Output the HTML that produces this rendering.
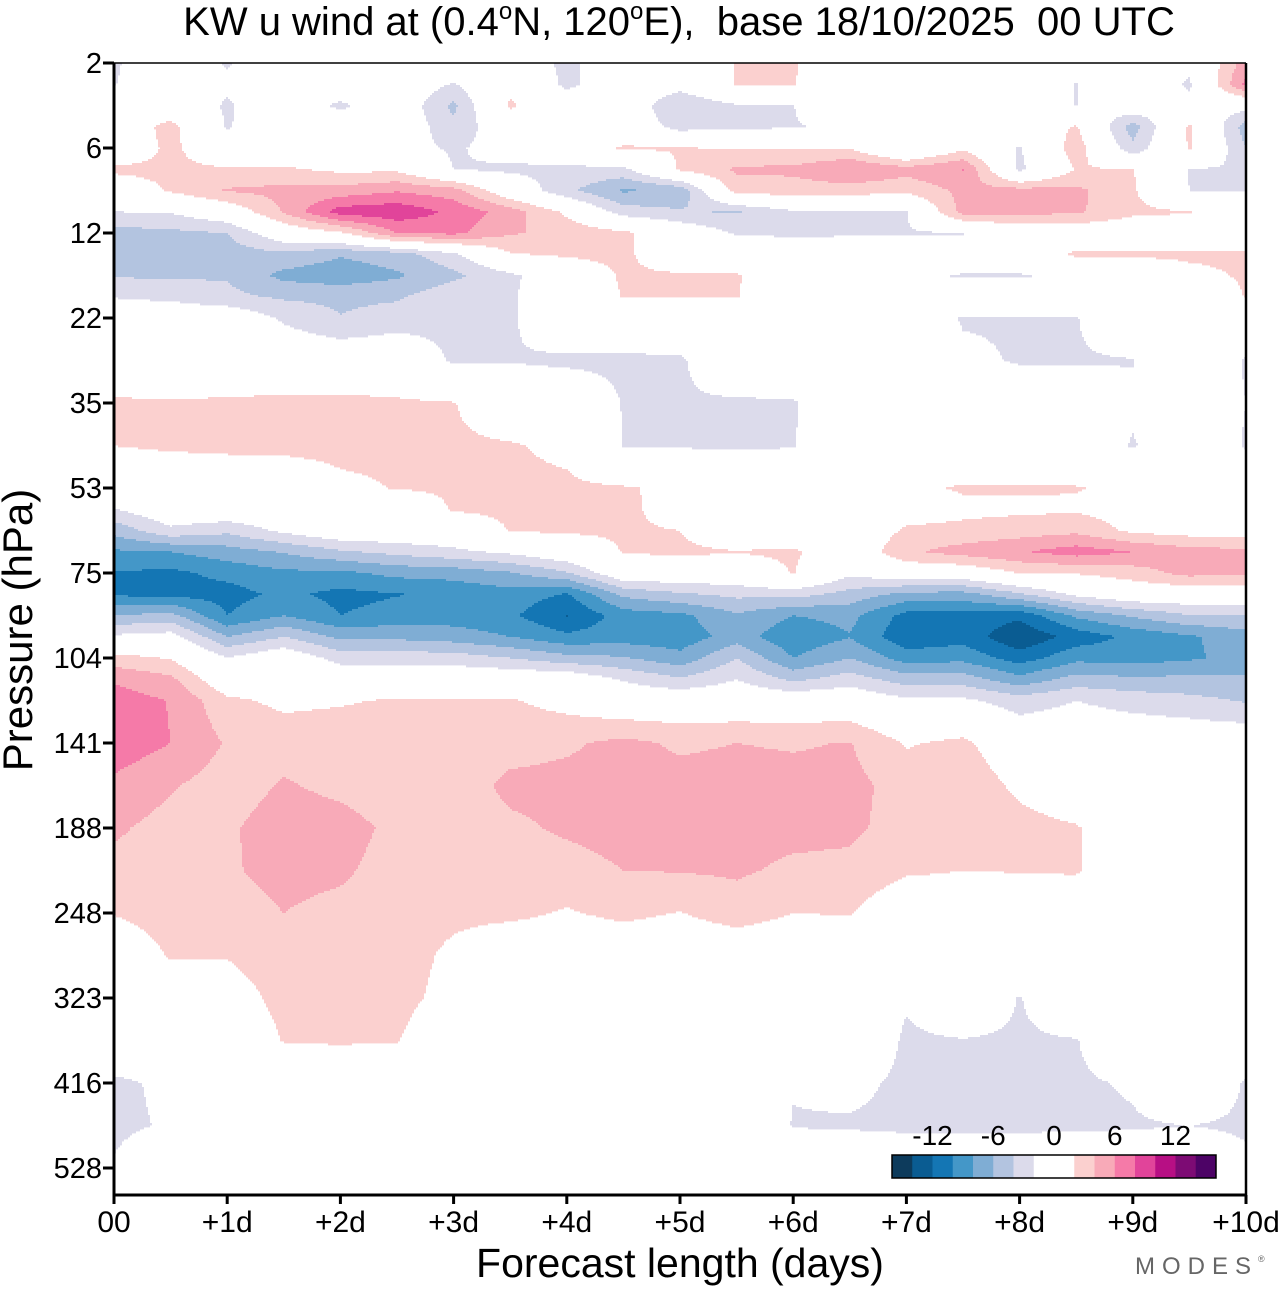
<!DOCTYPE html>
<html><head><meta charset="utf-8"><title>KW u wind</title>
<style>
html,body{margin:0;padding:0;background:#fff;}
body{width:1280px;height:1286px;overflow:hidden;font-family:"Liberation Sans",Arial,sans-serif;}
svg text{font-family:"Liberation Sans",Arial,sans-serif;}
</style></head>
<body>
<svg id="chart" width="1280" height="1286" viewBox="0 0 1280 1286" xmlns="http://www.w3.org/2000/svg">
  <rect x="0" y="0" width="1280" height="1286" fill="#fff"/>
  <text x="679" y="35" font-size="40" text-anchor="middle" fill="#000" xml:space="preserve">KW u wind at (0.4<tspan font-size="24" dy="-16">o</tspan><tspan dy="16">N, 120</tspan><tspan font-size="24" dy="-16">o</tspan><tspan dy="16">E),  base 18/10/2025  00 UTC</tspan></text>
  <g id="field"></g>
  <g id="axes"></g>
  <text x="0" y="0" font-size="42" text-anchor="middle" transform="translate(32,630) rotate(-90)">Pressure (hPa)</text>
  <text x="680" y="1277" font-size="41" text-anchor="middle">Forecast length (days)</text>
  <text x="1135" y="1274" font-size="24" fill="#666" letter-spacing="7">MODES<tspan font-size="9" dy="-12" letter-spacing="0">®</tspan></text>
  <g id="cbar"></g>
</svg>
<script>
// ---- data ----
const yTickLabels = ['2','6','12','22','35','53','75','104','141','188','248','323','416','528'];
const xTickLabels = ['00','+1d','+2d','+3d','+4d','+5d','+6d','+7d','+8d','+9d','+10d'];
const forecastDays = [0,0.5,1,1.5,2,2.5,3,3.5,4,4.5,5,5.5,6,6.5,7,7.5,8,8.5,9,9.5,10];
const levelIndex = [0,0.25,0.5,0.75,1,1.25,1.5,1.75,2,2.25,2.5,2.75,3,3.5,4,4.5,5,5.25,5.5,5.75,6,6.25,6.5,6.75,7,7.25,7.5,8,8.5,9,9.5,10,10.5,11,11.5,12,12.5,13,13.4];
const windValues = [
[-2.3,0,-2.2,0,0,0,0,0,-2.6,0,0,2.1,2.2,0,0,0,0,0,0,-1.5,5],
[-2.1,0,-1.5,0,0,0,-2.2,1.5,-2.6,0,-1,2.2,2.1,0,0,0,0,-2.1,0,-2.3,6.5],
[0,0,-2.3,0,-2.5,0,-4.5,2.3,0,0,-4,-2.2,-2.1,2.1,0,0,0,-2.1,0,-1.5,-1],
[0,2.8,-2.2,0,0,0,-3.5,0,0,0,-2.8,-2.3,-2.2,-1.5,0,0,0,2.2,-5,2.4,-5],
[0,2.5,0,0,0,-1,-2.3,-1,0,2.3,2.1,1.8,1.8,1.8,-2,1.5,-2.2,3.2,-3.5,2.2,-4],
[2.4,2.4,2.2,2.3,1.5,1.5,-2,-2.4,-2.5,-2.5,2.3,4.3,4.5,6.1,4.8,6.1,-2.5,2.1,2.1,-2.1,-2.2],
[0.5,2.2,4.2,4.6,4.8,5.8,4.8,0,-3.5,-6.3,-5.5,3,3,3,2.5,4.5,4.8,4.5,2.3,-2,-2],
[-2,-1.8,0,4.2,9,9.5,7.5,5,1.5,-3,-3.8,-4.2,-2.3,-2.2,-2.1,4.8,4.7,4.3,2.5,2.1,0],
[-4.8,-4.5,-4,0,1.5,6,6.5,4.2,3.5,2.5,0,-2.2,-2.4,-2.3,-2.2,-2.1,0,0,0,0,0],
[-5,-5,-5,-4.5,-5.8,-5,-2.5,1.8,2.3,2.5,0,0,0,0,0,0,0,2.4,2.3,2.3,2.3],
[-4.2,-4.3,-4.2,-6.6,-7.2,-6.3,-4.5,-2.5,0,2.3,2.3,2.2,0,0,-1.5,-2.2,-2.2,-1.5,0,1.5,2.2],
[-2.1,-2.5,-3.5,-4.3,-4.5,-4.3,-2.5,-2.3,0,2.1,2.1,2.1,0,0,0,0,0,0,0,0,2.1],
[0,0,0,-2.3,-3.9,-3,-2.5,-2.3,0,0,0,0,0,0,0,-2.2,-2.2,-2.1,0,0,0],
[0,0,0,0,0,0,-2.3,-2.1,-2.4,-2.4,-2.3,0,0,0,0,-1.5,-2.2,-2.2,-2.1,0,-2.2],
[2.3,2.2,2.3,2.5,2.5,2.3,2.1,0,0,-2.1,-2.2,-2.3,-2.2,0,0,0,0,0,-1.5,0,-2],
[2,2.3,2.5,2.6,2.6,2.5,2.4,2.2,1.5,-2.1,-2.2,-2.2,-2.1,0,0,0,0,0,-2.2,0,-2.2],
[0,0,0,0,1.5,2.1,2.3,2.4,2.4,2.2,1.5,0,0,0,1.5,2.2,2.2,2.1,1.5,1,0],
[-2.1,0,0,0,0,0,2.2,2.4,2.5,2.5,1,0,0,0,1,1.5,1.6,1.7,1,1,1],
[-5.3,-2.5,-3.5,-1.5,0,0,0,2.1,2.3,2.3,2,0,0,0,2.3,2.5,3,3.5,1.5,1,1],
[-8.3,-8,-6.9,-5.8,-4.3,-3.4,-2.5,-1.5,0,2.1,2.4,2.1,2.4,0,3.6,4.9,5.8,7,6,4.8,4.5],
[-10.1,-10.5,-9.4,-8.4,-8.5,-7.4,-7.2,-6.2,-4.2,0,0,0,2.1,-1.5,0,0,2,2.1,3,4.7,4.2],
[-10.3,-10.6,-10.8,-9.5,-10.6,-10.1,-9.5,-8.8,-10.2,-5.5,-4.3,-3.5,-3.2,-4.8,-6.6,-6.8,-4.3,-1.5,0,0,0],
[-6,-5.3,-10,-8,-10,-9.2,-9,-9.6,-12.1,-9,-8.5,-6.3,-8,-7.4,-10.7,-10.7,-11.5,-7.6,-5.7,-4.1,-4.1],
[-1.5,-1,-6,-4,-6.5,-6.5,-7,-8,-9.5,-9,-9.3,-7,-9.5,-8.1,-11.5,-10.8,-13.7,-11.2,-9.5,-8.3,-6.9],
[2.8,1.8,-1.8,0,-2.8,-2.8,-3,-4,-5.3,-5.8,-7.3,-4,-8,-6,-9,-8.6,-11,-8.6,-8.9,-8.3,-7.3],
[5.7,4.5,0,0,0,0,0,0,0,-2.2,-3.7,-2,-4.5,-3,-5,-5,-7.3,-5.2,-5.6,-5.5,-5.6],
[7,5.9,2.5,1.5,1.8,2.2,2.1,2.2,1.2,0,0,0,0,0,-1.5,-1.5,-3,-2,-2.8,-3.4,-4.2],
[7.3,6,3.8,3.2,3.2,3,3,3.2,3.7,4.5,3.7,4,3.8,4.1,1.8,2.5,0,0,0,0,0],
[5.5,4.2,3,4.2,3.5,2.8,2.8,4.5,4.6,4.8,4.7,4.8,4.7,4.6,3.2,3.5,1.5,0,0,0,0],
[4.3,3.3,3.7,5,4.8,3.5,3,3.6,4.3,4.8,4.8,4.8,4.6,4.4,3.2,3,2.8,2.2,0,0,0],
[3.4,3.2,3.8,4.5,4.3,3.2,3,3,3.2,4,4.1,4.3,3.6,3.5,2.3,2,2.1,2.2,0,0,0],
[2.1,3,3.3,4,3.5,3,2.5,2.5,1.8,2.5,1.9,3,2,2.1,0,0,0,0,0,0,0],
[0,2.2,2.1,3,3,3,1.5,0,0,0,0,0,0,0,0,0,0,0,0,0,0],
[0,0,1,2.6,2.7,2.7,1.2,0,0,0,0,0,0,0,-1.8,0,-2.1,0,0,0,0],
[0,0,0,2.1,2.2,2.1,0,0,0,0,0,0,0,0,-2.3,-2.1,-2.3,-2.1,0,0,0],
[-2.4,-1.6,0,0,0,0,0,0,0,0,0,0,-1.9,-1.5,-2.4,-2.3,-2.4,-2.3,-1.8,0,-2.2],
[-2.4,-1.8,0,0,0,0,0,0,0,0,0,0,-2.1,-2.2,-2.4,-2.4,-2.4,-2.3,-2.2,-2,-2.3],
[-1.8,0,0,0,0,0,0,0,0,0,0,0,0,0,0,0,0,0,0,0,-1.5],
[0,0,0,0,0,0,0,0,0,0,0,0,0,0,0,0,0,0,0,0,0]
];
const contourBounds = [-14,-12,-10,-8,-6,-4,-2,2,4,6,8,10,12,14];
const contourColors = ['#0d3b5c','#0a5c92','#1476b4','#4497c8','#7fadd4','#b3c4e0','#dcdbeb','#ffffff','#fbd0cf','#f8aab8','#f57aa8','#e1449a','#b70f84','#7d0b74','#4d0366'];
const colorbarLabels = ['-12','-6','0','6','12'];
const colorbarLabelValues = [-12,-6,0,6,12];

// ---- layout ----
const NS = 'http://www.w3.org/2000/svg';
const X0 = 114, Y0 = 63, W = 1132, H = 1132;
function xScale(d){ return X0 + d * (W / 10); }
function yScale(l){ return Y0 + l * 85; }
function xInv(px){ return (px - X0) / (W / 10); }
function yInv(py){ return (py - Y0) / 85; }
function colorIndex(v){ let i = 0; while (i < contourBounds.length && v >= contourBounds[i]) i++; return i; }
function sample(d, l){
  const nC = forecastDays.length;
  let c = 0; while (c < nC - 2 && forecastDays[c + 1] <= d) c++;
  let tx = (d - forecastDays[c]) / (forecastDays[c + 1] - forecastDays[c]);
  tx = Math.max(0, Math.min(1, tx));
  const nR = levelIndex.length;
  let r = 0; while (r < nR - 2 && levelIndex[r + 1] <= l) r++;
  let ty = (l - levelIndex[r]) / (levelIndex[r + 1] - levelIndex[r]);
  ty = Math.max(0, Math.min(1, ty));
  const a = windValues[r][c], b = windValues[r][c + 1], e = windValues[r + 1][c], f = windValues[r + 1][c + 1];
  return (a * (1 - tx) + b * tx) * (1 - ty) + (e * (1 - tx) + f * tx) * ty;
}

// ---- contour field ----
const field = document.getElementById('field');
const STEP = 2;
for (let py = Y0; py < Y0 + H; py += STEP) {
  const l = yInv(py + STEP / 2);
  let runStart = X0, runColor = -1;
  for (let px = X0; px <= X0 + W; px += STEP) {
    let ci = -1;
    if (px < X0 + W) ci = colorIndex(sample(xInv(px + STEP / 2), l));
    if (ci !== runColor) {
      if (runColor >= 0 && runColor !== 7) {
        const r = document.createElementNS(NS, 'rect');
        
        
        r.setAttribute('x', runStart); r.setAttribute('y', py);
        r.setAttribute('width', Math.min(px, X0 + W) - runStart); r.setAttribute('height', STEP + 0.4);
        r.setAttribute('fill', contourColors[runColor]);
        field.appendChild(r);
      }
      runStart = px; runColor = ci;
    }
  }
}

// ---- axes ----
const axes = document.getElementById('axes');
function addLine(x1, y1, x2, y2, w, name){
  const ln = document.createElementNS(NS, 'line');
  
  
  ln.setAttribute('x1', x1); ln.setAttribute('y1', y1); ln.setAttribute('x2', x2); ln.setAttribute('y2', y2);
  ln.setAttribute('stroke', '#000'); ln.setAttribute('stroke-width', w);
  axes.appendChild(ln);
}
addLine(X0, Y0, X0 + W, Y0, 1.5, 'plot-top-border');
addLine(X0 + W, Y0, X0 + W, Y0 + H + 8, 2.5, 'plot-right-border');
addLine(X0, Y0, X0, Y0 + H + 8, 3, 'y-axis-line');
addLine(X0, Y0 + H, X0 + W, Y0 + H, 3, 'x-axis-line');
yTickLabels.forEach((lab, i) => {
  const y = yScale(i);
  addLine(X0 - 11, y, X0, y, 3, 'y-tick');
  const t = document.createElementNS(NS, 'text');
  
  
  t.setAttribute('x', 102); t.setAttribute('y', y + 10);
  t.setAttribute('font-size', '29'); t.setAttribute('text-anchor', 'end');
  t.textContent = lab; axes.appendChild(t);
});
xTickLabels.forEach((lab, i) => {
  const x = xScale(i);
  addLine(x, Y0 + H, x, Y0 + H + 9, 3, 'x-tick');
  const t = document.createElementNS(NS, 'text');
  
  
  t.setAttribute('x', x); t.setAttribute('y', 1232);
  t.setAttribute('font-size', '30'); t.setAttribute('text-anchor', 'middle');
  t.textContent = lab; axes.appendChild(t);
});

// ---- colorbar ----
const cbar = document.getElementById('cbar');
const CB_X = 892, CB_Y = 1155, CB_W = 324, CB_H = 23, UNIT = CB_W / 16;
function cbX(v){ return CB_X + (v + 16) / 2 * UNIT; }
const cbEdges = [-16].concat(contourBounds).concat([16]);
contourColors.forEach((col, i) => {
  const r = document.createElementNS(NS, 'rect');
  
  
  r.setAttribute('x', cbX(cbEdges[i])); r.setAttribute('y', CB_Y);
  r.setAttribute('width', cbX(cbEdges[i + 1]) - cbX(cbEdges[i]) + 0.3); r.setAttribute('height', CB_H);
  r.setAttribute('fill', col);
  cbar.appendChild(r);
});
const border = document.createElementNS(NS, 'rect');


border.setAttribute('x', CB_X); border.setAttribute('y', CB_Y); border.setAttribute('width', CB_W); border.setAttribute('height', CB_H);
border.setAttribute('fill', 'none'); border.setAttribute('stroke', '#000'); border.setAttribute('stroke-width', '1.5');
cbar.appendChild(border);
colorbarLabels.forEach((lab, i) => {
  const t = document.createElementNS(NS, 'text');
  
  
  t.setAttribute('x', cbX(colorbarLabelValues[i])); t.setAttribute('y', 1145);
  t.setAttribute('font-size', '28'); t.setAttribute('text-anchor', 'middle');
  t.textContent = lab; cbar.appendChild(t);
});
</script>
</body></html>
